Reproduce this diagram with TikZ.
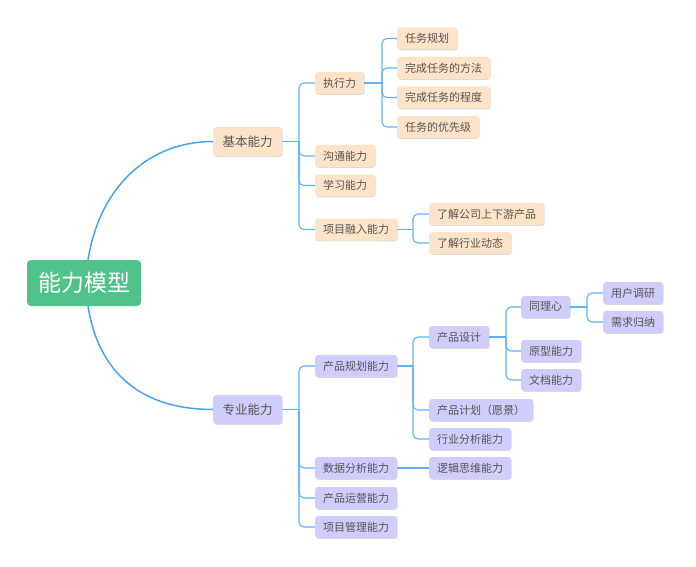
\documentclass[tikz,border=0pt]{standalone}
\usepackage{fontspec}
\newfontfamily\cjk{Noto Sans CJK SC}
\usepackage{tikz}
\usetikzlibrary{shadows}
\usepackage{xcolor}

\definecolor{rootgreen}{HTML}{4FC38A}
\definecolor{peach}{HTML}{FDE3C8}
\definecolor{lilac}{HTML}{CFCDFB}
\definecolor{linkblue}{HTML}{5EB2FA}
\definecolor{curveblue}{HTML}{45A3F6}
\definecolor{txtgray}{HTML}{555555}

% trunk from parent to child at a fixed x
\newcommand{\branch}[3]{%
  \draw[link] (#1.east) -- (#1.east -| #3,0);
  \draw[link, rounded corners=5pt] (#1.east -| #3,0) |- (#2.west);}

\begin{document}
\begin{tikzpicture}[x=1pt, y=-1pt,
  box/.style={rounded corners=3pt, text=txtgray, anchor=west, inner xsep=8pt,
    minimum height=22pt, font=\cjk\fontsize{11}{12}\selectfont,
    drop shadow={shadow xshift=0.5pt, shadow yshift=-0.8pt, opacity=0.15, fill=black}},
  basic/.style={box, fill=peach},
  major/.style={box, fill=lilac},
  headbox/.style={minimum height=29pt, inner xsep=9.5pt, font=\cjk\fontsize{12.5}{14}\selectfont},
  link/.style={draw=linkblue, line width=1.1pt},
  bigcurve/.style={draw=curveblue, line width=1.5pt}]
  \useasboundingbox (0,0) rectangle (696,567);

  \node[fill=rootgreen, text=white, rounded corners=4pt, minimum width=114pt,
    minimum height=46pt, font=\cjk\fontsize{23}{24}\selectfont] (root) at (84,283) {能力模型};

  % basic branch
  \node[basic, headbox] (jb) at (213,141.5) {基本能力};
  \node[basic] (zxl) at (315,83) {执行力};
  \node[basic] (gt) at (315,156) {沟通能力};
  \node[basic] (xx) at (315,185.5) {学习能力};
  \node[basic] (rr) at (315,229.5) {项目融入能力};
  \node[basic] (rwgh) at (397,38.5) {任务规划};
  \node[basic] (ff) at (397,68) {完成任务的方法};
  \node[basic] (cd) at (397,97.5) {完成任务的程度};
  \node[basic] (yxj) at (397,127) {任务的优先级};
  \node[basic] (sxy) at (429,214) {了解公司上下游产品};
  \node[basic] (hydt) at (429,243) {了解行业动态};

  % major branch
  \node[major, headbox] (zy) at (213,409.5) {专业能力};
  \node[major] (ghnl) at (315,366) {产品规划能力};
  \node[major] (sjfx) at (315,468) {数据分析能力};
  \node[major] (yy) at (315,498) {产品运营能力};
  \node[major] (xmgl) at (315,527) {项目管理能力};
  \node[major] (cpsj) at (429,337) {产品设计};
  \node[major] (cpjh) at (429,410) {产品计划（愿景）};
  \node[major] (hyfx) at (429,439) {行业分析能力};
  \node[major] (ljsw) at (429,468) {逻辑思维能力};
  \node[major] (tlx) at (521,307) {同理心};
  \node[major] (yx) at (521,351) {原型能力};
  \node[major] (wd) at (521,380) {文档能力};
  \node[major] (yhdy) at (603,293) {用户调研};
  \node[major] (xqgn) at (603,322) {需求归纳};

  \draw[bigcurve] ([xshift=4pt]root.north) .. controls (100,185) and (150,141.5) .. (jb.west);
  \draw[bigcurve] ([xshift=4pt]root.south) .. controls (100,381) and (150,409.5) .. (zy.west);

  \foreach \c in {zxl,gt,xx,rr} \branch{jb}{\c}{299};
  \foreach \c in {rwgh,ff,cd,yxj} \branch{zxl}{\c}{382};
  \foreach \c in {sxy,hydt} \branch{rr}{\c}{413};
  \foreach \c in {ghnl,sjfx,yy,xmgl} \branch{zy}{\c}{299};
  \foreach \c in {cpsj,cpjh,hyfx} \branch{ghnl}{\c}{413};
  \draw[link] (sjfx.east) -- (ljsw.west);
  \foreach \c in {tlx,yx,wd} \branch{cpsj}{\c}{506};
  \foreach \c in {yhdy,xqgn} \branch{tlx}{\c}{587};
\end{tikzpicture}
\end{document}
